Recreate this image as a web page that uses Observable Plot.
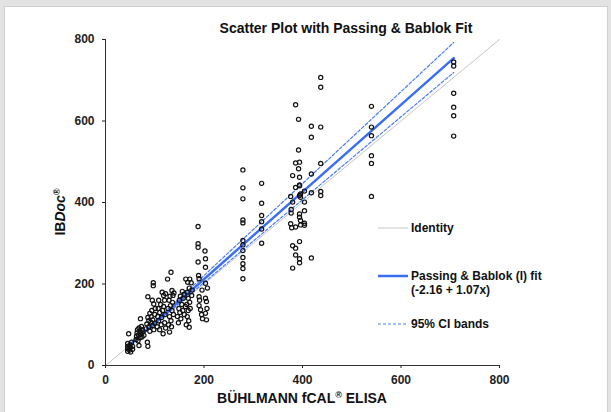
<!DOCTYPE html>
<html>
<head>
<meta charset="utf-8">
<script src="https://cdn.jsdelivr.net/npm/d3@7"></script>
<script src="https://cdn.jsdelivr.net/npm/@observablehq/plot@0.6"></script>
<style>
  html, body { margin: 0; padding: 0; }
  body { width: 611px; height: 412px; overflow: hidden; position: relative; background: #e3e3e3;
         font-family: "Liberation Sans", Arial, sans-serif; }
  #panel { position: absolute; left: 4px; top: 6px; width: 602px; height: 420px; background: #fff;
           border: 1px solid #cfcfcf; }
  #chart { position: absolute; left: 0; top: 0; }
</style>
</head>
<body>
<div id="panel"></div>
<div id="chart"></div>
<script>
// ---- Data (BÜHLMANN fCAL ELISA vs IBDoc) ----
const lowElisa = [45,45,45,45,47,49,50,50,51,53,55,55,
  62,63,64,65,66,67,68,68,70,70,71,72,73,74,75,76,78,85,86,
  82,84,86,86,88,88,90,90,92,93,94,95,95,96,97,97,98,98,100,100,101];
const lowIbdoc = [35,41,47,54,78,38,44,51,33,57,40,47,
  64,72,80,88,61,75,49,92,68,84,115,78,96,70,88,82,74,57,47,
  90,102,118,169,110,95,128,84,106,120,135,98,160,112,203,196,151,88,125,104,140];

const midElisa = [105,106,107,108,108,110,110,112,113,114,115,116,117,118,118,120,120,121,122,122,
  126,127,128,129,130,130,131,132,133,133,134,135,135,136,137,138,139,
  146,148,149,150,151,152,153,155,156,157,158,160,160,162,
  163,164,165,166,166,167,168,168,169,170,170,171,171,172,174,175,176,
  188,188,188,188,189,190,190,191,190,193,195,196,197,202,203,203,203,203,205,203,205,206,207];
const midIbdoc = [95,120,140,110,160,88,130,150,100,118,180,135,78,172,145,105,160,125,176,92,
  212,140,100,160,120,82,170,147,229,110,95,135,184,155,172,125,178,
  120,105,140,160,130,170,115,150,182,135,165,125,175,145,
  212,100,150,180,120,204,165,135,110,190,94,212,155,140,203,172,185,
  341,299,290,254,221,213,169,160,147,137,125,185,115,281,262,241,202,165,157,128,112,140,190];

const upperElisa = [279,279,279,279,279,279,279,279,279,279,279,279, 317,317,317,317,317,317];
const upperIbdoc = [480,436,409,357,350,307,296,282,265,250,238,213, 447,398,368,353,335,300];

const highElisa = [376,376,377,377,378,380,380,380,380,386,386,386,386,386,386,392,392,392,
  394,394,394,394,394,394,394,394,394,394,396,396,396,396,404,404,404,404,404,
  418,418,418,418,418,437,437,437,437,437,437];
const highIbdoc = [415,348,383,374,338,466,401,294,239,640,497,437,340,288,271,604,529,483,
  499,462,443,441,417,372,364,304,262,252,421,413,356,345,428,401,380,349,344,
  587,560,470,424,264,707,683,585,496,427,417];

const topElisa = [540,540,540,540,540,540, 707,707,707,707,707,707];
const topIbdoc = [636,585,564,515,496,415, 745,735,668,634,613,563];

// Passing & Bablok fit and 95% CI lines
const fitIntercept = -2.16, fitSlope = 1.07;
const ciUpperIntercept = -4.8, ciUpperSlope = 1.128;
const ciLowerIntercept = 0.1, ciLowerSlope = 1.017;
const axisTicks = [0, 200, 400, 600, 800];

// ---- Build tables ----
const points = [];
[[lowElisa, lowIbdoc], [midElisa, midIbdoc], [upperElisa, upperIbdoc], [highElisa, highIbdoc], [topElisa, topIbdoc]]
  .forEach(([xs, ys]) => xs.forEach((x, i) => points.push({x, y: ys[i]})));

const xExt = d3.extent(points, d => d.x);
const lineOf = (a, b, xs) => xs.map(x => ({x, y: a + b * x}));
const identity = lineOf(0, 1, [axisTicks[0], axisTicks[axisTicks.length - 1]]);
const fitLine = lineOf(fitIntercept, fitSlope, xExt);
const ciUpper = lineOf(ciUpperIntercept, ciUpperSlope, xExt);
const ciLower = lineOf(ciLowerIntercept, ciLowerSlope, xExt);

const blue = "#3a6ef4", ciBlue = "#4a7cf8", grey = "#c6c6c6";

const plot = Plot.plot({
  width: 611, height: 412,
  marginLeft: 105, marginRight: 112, marginTop: 39, marginBottom: 47,
  x: {domain: [0, 800], ticks: axisTicks, tickSize: 3, tickPadding: 7, label: null},
  y: {domain: [0, 800], ticks: axisTicks, tickSize: 3, tickPadding: 8, label: null},
  style: {background: "transparent", fontFamily: "'Liberation Sans', Arial, sans-serif",
          fontSize: "12px", fontWeight: "bold", color: "#222", overflow: "visible"},
  marks: [
    Plot.line(identity, {x: "x", y: "y", stroke: grey, strokeWidth: 1}),
    Plot.line(ciUpper, {x: "x", y: "y", stroke: ciBlue, strokeWidth: 1.2, strokeDasharray: "3,2"}),
    Plot.line(ciLower, {x: "x", y: "y", stroke: ciBlue, strokeWidth: 1.2, strokeDasharray: "3,2"}),
    Plot.line(fitLine, {x: "x", y: "y", stroke: blue, strokeWidth: 2.5}),
    Plot.dot(points, {x: "x", y: "y", r: 2.1, stroke: "#111", strokeWidth: 1.2, fill: "none"}),
    Plot.ruleX([0], {stroke: "#333"}),
    Plot.ruleY([0], {stroke: "#333"})
  ]
});
document.getElementById("chart").appendChild(plot);

// ---- Titles & legend ----
const svg = d3.select(plot);
const [xr0, xr1] = plot.scale("x").range;

svg.append("text")
  .attr("x", 346).attr("y", 33).attr("text-anchor", "middle")
  .style("font-size", "14px").style("font-weight", "bold").attr("fill", "#111")
  .text("Scatter Plot with Passing & Bablok Fit");

const xt = svg.append("text")
  .attr("x", (xr0 + xr1) / 2).attr("y", 403).attr("text-anchor", "middle")
  .style("font-size", "14px").style("font-weight", "bold").attr("fill", "#111");
xt.append("tspan").text("BÜHLMANN fCAL");
xt.append("tspan").attr("dy", -5).style("font-size", "9px").text("®");
xt.append("tspan").attr("dy", 5).text(" ELISA");

const yt = svg.append("text")
  .attr("transform", "translate(65,212) rotate(-90)").attr("text-anchor", "middle")
  .style("font-size", "14px").style("font-weight", "bold").attr("fill", "#111");
yt.append("tspan").text("IB");
yt.append("tspan").style("font-style", "italic").text("Doc");
yt.append("tspan").attr("dy", -5).style("font-size", "9px").text("®");

const legendItems = [
  {cy: 228, stroke: grey, width: 1, dash: null, lines: ["Identity"]},
  {cy: 276, stroke: blue, width: 2.5, dash: null,
   lines: ["Passing & Bablok (I) fit", `(${fitIntercept} + ${fitSlope}x)`]},
  {cy: 324, stroke: ciBlue, width: 1.2, dash: "3,2", lines: ["95% CI bands"]}
];
const leg = svg.append("g").style("font-size", "12px").style("font-weight", "bold");
legendItems.forEach(it => {
  leg.append("line").attr("x1", 378).attr("x2", 408).attr("y1", it.cy).attr("y2", it.cy)
    .attr("stroke", it.stroke).attr("stroke-width", it.width)
    .attr("stroke-dasharray", it.dash);
  it.lines.forEach((t, i) => {
    leg.append("text").attr("x", 411).attr("y", it.cy + i * 13.5).attr("dy", "0.35em")
      .attr("text-anchor", "start").attr("fill", "#111").text(t);
  });
});
</script>
</body>
</html>
